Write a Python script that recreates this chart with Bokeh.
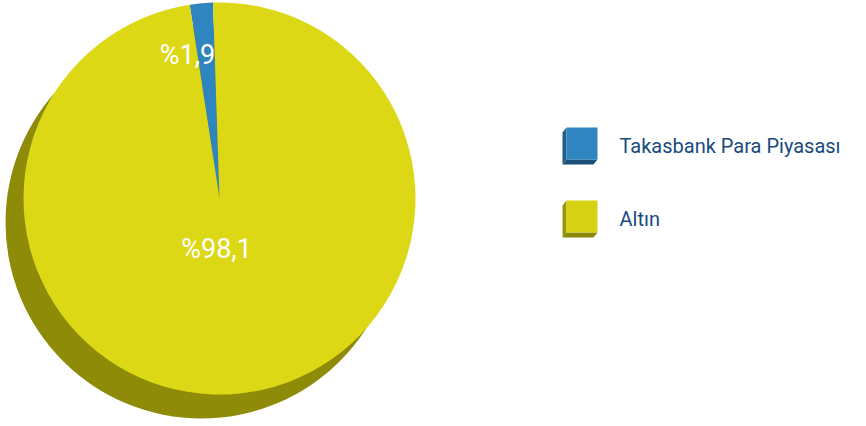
import math
from bokeh.plotting import figure
from bokeh.models import Range1d
from bokeh.core.properties import value
from bokeh.embed import file_html
from bokeh.resources import INLINE

# ---- data ----
categories = ["Takasbank Para Piyasası", "Altın"]
shares = [1.9, 98.1]
labels = ["%1,9", "%98,1"]
colors = ["#2e85c0", "#ddd816"]
legend_colors = ["#2e85c0", "#d6d114"]
bevel_left = ["#1f5f8c", "#9a960a"]
bevel_bottom = ["#1b5178", "#8a8806"]

W, H = 850, 420
# data space: 1 unit = 1 px, x from left, y measured upward from bottom
def Y(py):
    return H - py

p = figure(width=W, height=H, output_backend="svg", toolbar_location=None,
           x_range=Range1d(0, W), y_range=Range1d(0, H),
           min_border=0, outline_line_color=None)
p.axis.visible = False
p.grid.visible = False
p.background_fill_color = "white"
p.border_fill_color = "white"

cx, cy, r = 219, Y(198), 196
# shadow
p.circle(x=[201], y=[Y(222)], radius=196, fill_color="#8d8b07", line_color=None)

# wedges
start0 = math.radians(91.9)
total = sum(shares)
acc = start0
starts, ends = [], []
for s in shares:
    a = s / total * 2 * math.pi
    starts.append(acc)
    ends.append(acc + a)
    acc += a
p.wedge(x=[cx] * 2, y=[cy] * 2, radius=r, start_angle=starts, end_angle=ends,
        fill_color=colors, line_color=None)

# slice labels
lab_x = [187, 216]
lab_y = [Y(54), Y(248)]
p.text(x=lab_x, y=lab_y, text=labels, text_color="white", text_font=value("Roboto"),
       text_font_size="27px", text_align="center", text_baseline="alphabetic")

# legend
for i, cat in enumerate(categories):
    top = 127 + 73 * i
    x0, x1 = 566, 597
    y0, y1 = top, top + 32
    dx, dy = 4, 5
    p.patch(x=[x0, x0 - dx, x0 - dx, x0], y=[Y(y0), Y(y0 + dy), Y(y1 + dy), Y(y1)],
            fill_color=bevel_left[i], line_color=None)
    p.patch(x=[x0, x0 - dx, x1 - dx, x1], y=[Y(y1), Y(y1 + dy), Y(y1 + dy), Y(y1)],
            fill_color=bevel_bottom[i], line_color=None)
    p.quad(left=[x0], right=[x1], top=[Y(y0)], bottom=[Y(y1)],
           fill_color=legend_colors[i], line_color=None)
    p.text(x=[619], y=[Y(145 + 73 * i)], text=[cat], text_color="#184a7e",
           text_font=value("Roboto"), text_font_size="20px",
           text_align="left", text_baseline="alphabetic")

open("out.html", "w").write(file_html(p, INLINE))
